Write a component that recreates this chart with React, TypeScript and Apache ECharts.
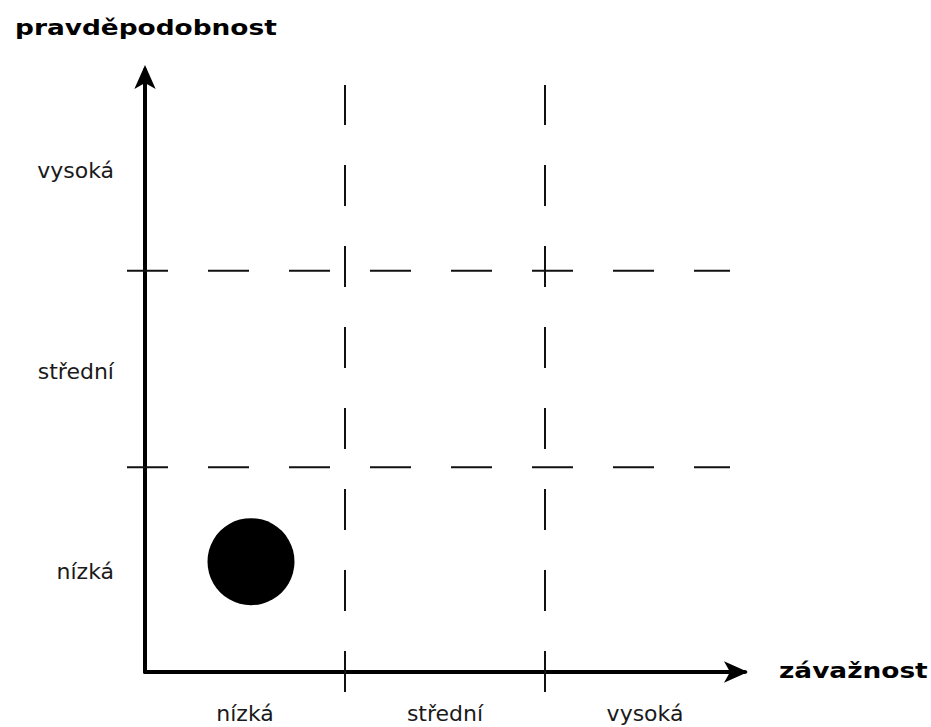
import React, { useEffect, useRef } from "react";
import * as echarts from "echarts";

// Category labels (axes)
const xCategories = ["nízká", "střední", "vysoká"];
const yCategories = ["nízká", "střední", "vysoká"];
const xAxisTitle = "závažnost";
const yAxisTitle = "pravděpodobnost";

// The single risk point (severity, probability) in band units (0..3)
const riskPoint = [0.53, 0.55];
const riskPointSize = 87;

// Dashed separators between bands, with their drawn extents (band units)
const verticalSeparators = [1, 2];
const verticalExtent = [-0.1, 2.925];
const horizontalSeparators = [1.02, 2];
const horizontalExtent = [-0.09, 2.925];

function bandLabel(cats: string[]) {
  return (v: number) => {
    const frac = Math.round((v - Math.floor(v)) * 100) / 100;
    if (frac === 0.5) return cats[Math.floor(v)] ?? "";
    return "";
  };
}

export default function App() {
  const ref = useRef<HTMLDivElement>(null);
  useEffect(() => {
    if (!ref.current) return;
    const chart = echarts.init(ref.current, undefined, { renderer: "svg" });

    const segments: number[][] = [];
    verticalSeparators.forEach((x) => {
      segments.push([x, verticalExtent[0], x, verticalExtent[1]]);
    });
    horizontalSeparators.forEach((y) => {
      segments.push([horizontalExtent[0], y, horizontalExtent[1], y]);
    });

    const labelStyle = {
      fontFamily: "DejaVu Sans",
      fontSize: 22,
      color: "#1a1a1a",
    };

    chart.setOption({
      animation: false,
      backgroundColor: "#fff",
      grid: { left: 145, right: 186, top: 70, bottom: 55, containLabel: false },
      xAxis: {
        type: "value",
        min: 0,
        max: 3,
        interval: 0.5,
        splitLine: { show: false },
        axisTick: { show: false },
        axisLine: {
          show: true,
          symbol: ["none", "arrow"],
          symbolSize: [16, 24],
          symbolOffset: [0, 3],
          lineStyle: { color: "#000", width: 4 },
        },
        axisLabel: {
          ...labelStyle,
          margin: 30,
          formatter: bandLabel(xCategories),
        },
      },
      yAxis: {
        type: "value",
        min: 0,
        max: 3,
        interval: 0.5,
        splitLine: { show: false },
        axisTick: { show: false },
        axisLine: {
          show: true,
          symbol: ["none", "arrow"],
          symbolSize: [16, 24],
          symbolOffset: [0, 5],
          lineStyle: { color: "#000", width: 4 },
        },
        axisLabel: {
          ...labelStyle,
          margin: 31,
          formatter: bandLabel(yCategories),
        },
      },
      graphic: [
        {
          type: "text",
          x: 15,
          y: 27,
          scaleX: 1.2,
          style: {
            text: yAxisTitle,
            font: 'bold 22px "DejaVu Sans"',
            fill: "#000",
            verticalAlign: "middle",
          },
        },
        {
          type: "text",
          x: 779,
          y: 670,
          scaleX: 1.2,
          style: {
            text: xAxisTitle,
            font: 'bold 22px "DejaVu Sans"',
            fill: "#000",
            verticalAlign: "middle",
          },
        },
      ],
      series: [
        {
          type: "custom",
          clip: false,
          silent: true,
          data: segments,
          encode: { x: [0, 2], y: [1, 3] },
          renderItem: (_params: any, api: any) => {
            const p1 = api.coord([api.value(0), api.value(1)]);
            const p2 = api.coord([api.value(2), api.value(3)]);
            return {
              type: "line",
              shape: { x1: p1[0], y1: p1[1], x2: p2[0], y2: p2[1] },
              style: { stroke: "#111", lineWidth: 2, lineDash: [41, 40] },
            };
          },
          z: 1,
        },
        {
          type: "scatter",
          data: [riskPoint],
          symbol: "circle",
          symbolSize: riskPointSize,
          clip: false,
          itemStyle: { color: "#000", opacity: 1 },
          z: 3,
        },
      ],
    });
    return () => chart.dispose();
  }, []);
  return (
    <div
      ref={ref}
      style={{ position: "fixed", left: 0, top: 0, width: 931, height: 727, background: "#fff" }}
    />
  );
}
